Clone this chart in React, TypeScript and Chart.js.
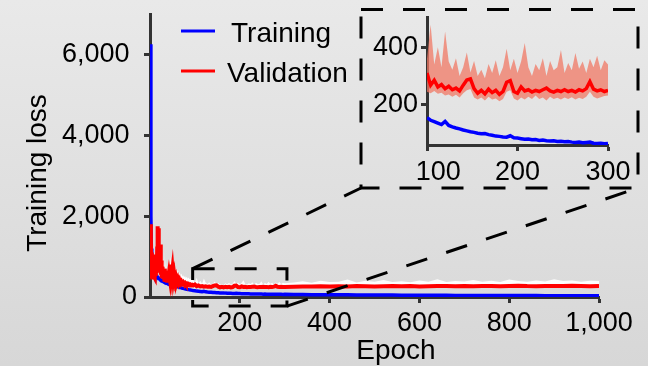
import React, { useEffect, useRef } from 'react';
import { Chart, registerables } from 'chart.js';

Chart.register(...registerables);

// ---------- data ----------
const epochs = [
  1, 2, 3, 4, 5, 6, 7, 8, 9, 10,
  11, 12, 13, 14, 15, 16, 17, 18, 19, 20,
  21, 22, 23, 24, 25, 26, 27, 28, 29, 30,
  31, 32, 33, 34, 35, 36, 37, 38, 39, 40,
  42, 44, 46, 48, 50, 52, 54, 56, 58, 60,
  62, 64, 66, 68, 70, 72, 74, 76, 78, 80,
  82, 84, 86, 88, 90, 92, 94, 96,
  100, 104, 108, 112, 116, 120, 124, 128, 132, 136,
  140, 144, 148, 152, 156, 160, 164, 168, 172, 176,
  180, 184, 188, 192, 196, 200, 204, 208, 212, 216,
  220, 224, 228, 232, 236, 240, 244, 248, 252, 256,
  260, 264, 268, 272, 276, 280, 284, 288, 292, 296, 300,
  320, 340, 360, 380, 400, 420, 440, 460, 480, 500,
  520, 540, 560, 580, 600, 620, 640, 660, 680, 700,
  720, 740, 760, 780, 800, 820, 840, 860, 880, 900,
  920, 940, 960, 980, 1000,
];

const trainLoss = [
  6250, 2000, 1200, 950, 820, 745, 690, 648, 622, 596,
  578, 562, 545, 528, 516, 507, 495, 484, 475, 466,
  455, 444, 437, 430, 419, 410, 404, 399, 391, 385,
  378, 372, 366, 361, 357, 353, 346, 342, 337, 333,
  326, 318, 308, 301, 292, 285, 277, 270, 262, 256,
  249, 241, 236, 231, 224, 218, 214, 209, 202, 197,
  193, 189, 182, 177, 174, 169, 163, 159,
  155, 146, 141, 136, 131, 142, 128, 123, 119, 116,
  112, 109, 106, 104, 101, 99, 100, 96, 94, 91,
  90, 88, 87, 92, 85, 84, 82, 80, 81, 78,
  79, 76, 77, 75, 74, 75, 72, 73, 71, 72,
  70, 69, 70, 68, 69, 70, 66, 65, 66, 64, 65,
  62, 60, 58, 57, 55, 54, 53, 52, 50, 49,
  48, 47, 46, 45, 44, 43, 42, 41, 40, 40,
  39, 38, 38, 37, 36, 36, 35, 35, 34, 34,
  33, 33, 32, 32, 31,
];

const valLoss = [
  1800, 1500, 520, 1100, 480, 900, 560, 1050, 500, 800,
  470, 950, 520, 1000, 600, 1200, 1750, 700, 1700, 800,
  1100, 600, 1300, 550, 900, 480, 750, 460, 680, 450,
  620, 430, 700, 420, 650, 440, 600, 400, 560, 420,
  600, 450, 800, 520, 700, 420, 560, 390, 480, 370,
  440, 350, 410, 340, 380, 330, 360, 320, 345, 310,
  330, 300, 320, 295, 310, 290, 300, 285,
  310, 268, 285, 262, 270, 256, 264, 252, 258, 248,
  268, 286, 290, 256, 240, 250, 238, 254, 242, 250,
  236, 246, 278, 284, 246, 240, 262, 248, 252, 244,
  250, 246, 252, 258, 248, 244, 250, 246, 252, 246,
  250, 244, 252, 248, 256, 280, 254, 248, 252, 246, 250,
  255, 262, 258, 265, 260, 268, 262, 270, 265, 260,
  268, 272, 265, 270, 262, 268, 275, 270, 265, 272,
  268, 275, 270, 266, 272, 278, 270, 268, 275, 272,
  270, 276, 272, 268, 275,
];

const valUpper = [
  1900, 1850, 900, 1400, 800, 1200, 900, 1300, 850, 1100,
  800, 1250, 850, 1300, 1000, 1500, 1850, 1100, 1880, 1200,
  1400, 1000, 1550, 900, 1200, 800, 1050, 780, 950, 750,
  900, 720, 1150, 700, 950, 720, 880, 680, 820, 700,
  900, 720, 1000, 800, 1100, 700, 850, 640, 720, 600,
  680, 560, 620, 540, 580, 510, 540, 490, 520, 470,
  500, 450, 480, 440, 460, 430, 440, 420,
  360, 478, 340, 400, 330, 455, 350, 322, 362, 300,
  330, 382, 312, 352, 300, 322, 292, 342, 310, 355,
  300, 330, 395, 320, 360, 310, 350, 415, 330, 300,
  342, 320, 362, 300, 352, 320, 330, 390, 310, 345,
  320, 380, 325, 350, 310, 360, 330, 370, 320, 355, 340,
  360, 390, 350, 400, 370, 380, 430, 360, 400, 380,
  420, 370, 390, 365, 410, 380, 440, 370, 395, 385,
  420, 375, 400, 370, 430, 395, 380, 410, 385, 440,
  395, 410, 380, 400, 395,
];

const valLower = [
  1500, 1200, 400, 800, 380, 650, 430, 750, 400, 600,
  380, 700, 420, 750, 480, 900, 1300, 550, 1300, 600,
  800, 480, 950, 430, 650, 380, 560, 360, 500, 350,
  470, 340, 520, 330, 480, 340, 450, 320, 420, 330,
  450, 350, 580, 400, 520, 330, 420, 310, 370, 295,
  340, 280, 320, 270, 300, 262, 285, 256, 272, 248,
  262, 242, 255, 238, 246, 234, 238, 232,
  245, 240, 248, 238, 242, 232, 236, 228, 235, 225,
  240, 250, 255, 225, 218, 225, 215, 228, 218, 222,
  212, 220, 245, 250, 222, 215, 225, 218, 228, 220,
  232, 220, 225, 215, 228, 220, 224, 218, 225, 220,
  226, 218, 224, 220, 228, 245, 228, 222, 226, 230, 232,
  225, 230, 228, 232, 230, 235, 230, 236, 232, 230,
  235, 238, 232, 236, 230, 234, 240, 236, 232, 238,
  235, 240, 236, 232, 238, 242, 236, 234, 240, 238,
  236, 240, 238, 234, 240,
];

const mainXTicks = [200, 400, 600, 800, 1000];
const mainYTicks = [0, 2000, 4000, 6000];
const insetXTicks = [100, 200, 300];
const insetYTicks = [200, 400];
const zoomX = [95, 305];
const zoomY = [-225, 700];
const seriesNames = ['Training', 'Validation'];

const FONT = '"Liberation Sans", Arial, sans-serif';
const AX = '#333333';

function App() {
  const mainRef = useRef<HTMLCanvasElement>(null);
  const insetRef = useRef<HTMLCanvasElement>(null);

  useEffect(() => {
    document.body.style.margin = '0';
    const pts = (ys: number[]) => epochs.map((x, i) => ({ x, y: ys[i] }));
    const idx = epochs.map((_, i) => i).filter((i) => epochs[i] >= insetXTicks[0] && epochs[i] <= insetXTicks[2]);
    const ipts = (ys: number[]) => idx.map((i) => ({ x: epochs[i], y: ys[i] }));

    const overlay = {
      id: 'overlay',
      afterDraw(chart: any) {
        const ctx = chart.ctx as CanvasRenderingContext2D;
        const xs = chart.scales.x;
        const ys = chart.scales.y;
        ctx.save();
        // legend
        ctx.lineWidth = 3;
        ctx.strokeStyle = '#0000ff';
        ctx.beginPath(); ctx.moveTo(181, 31); ctx.lineTo(215, 31); ctx.stroke();
        ctx.strokeStyle = '#ff0000';
        ctx.beginPath(); ctx.moveTo(181, 71); ctx.lineTo(215, 71); ctx.stroke();
        ctx.fillStyle = '#000';
        ctx.font = `28px ${FONT}`;
        ctx.textBaseline = 'alphabetic';
        ctx.textAlign = 'left';
        ctx.fillText(seriesNames[0], 231, 42);
        ctx.fillText(seriesNames[1], 227, 82);
        // axis titles
        ctx.textAlign = 'center';
        ctx.fillText('Epoch', 396, 359);
        ctx.save();
        ctx.translate(46, 173);
        ctx.rotate(-Math.PI / 2);
        ctx.fillText('Training loss', 0, 0);
        ctx.restore();
        // dashed zoom box + connectors
        ctx.setLineDash([22, 20]);
        ctx.lineWidth = 3;
        ctx.strokeStyle = '#000';
        const rx0 = xs.getPixelForValue(zoomX[0]);
        const rx1 = xs.getPixelForValue(zoomX[1]);
        const ry0 = ys.getPixelForValue(zoomY[1]);
        const ry1 = ys.getPixelForValue(zoomY[0]);
        ctx.strokeRect(rx0, ry0, rx1 - rx0, ry1 - ry0);
        const bx0 = 361, by0 = 9.5, bx1 = 638, by1 = 188;
        ctx.strokeRect(bx0, by0, bx1 - bx0, by1 - by0);
        ctx.beginPath(); ctx.moveTo(rx0, ry0); ctx.lineTo(bx0, by1); ctx.stroke();
        ctx.beginPath(); ctx.moveTo(rx1, ry1); ctx.lineTo(bx1, by1); ctx.stroke();
        ctx.restore();
      },
    };

    const axisCommon = () => ({
      grid: { display: true, drawOnChartArea: false, drawTicks: true, tickLength: 6, tickWidth: 3, tickColor: AX },
      border: { display: true, color: AX, width: 3 },
    });
    const fitY = (w: number) => (s: any) => { s.width = w; s.paddingTop = 0; s.paddingBottom = 0; };
    const fitX = (h: number) => (s: any) => { s.height = h; };

    const main = new Chart(mainRef.current as HTMLCanvasElement, {
      type: 'line',
      data: {
        datasets: [
          { label: 'Validation', data: pts(valLoss), borderColor: '#ff0000', borderWidth: 4, pointRadius: 0, fill: false },
          { label: 'Training', data: pts(trainLoss), borderColor: '#0000ff', borderWidth: 3.5, pointRadius: 0, fill: false },
          { label: 'upper', data: pts(valUpper), borderColor: 'rgba(0,0,0,0)', borderWidth: 0, backgroundColor: 'rgba(255,255,255,0.95)', pointRadius: 0, fill: '+1' },
          { label: 'lower', data: pts(valLower), borderColor: 'rgba(0,0,0,0)', borderWidth: 0, pointRadius: 0, fill: false },
        ],
      } as any,
      options: {
        responsive: false,
        animation: false,
        events: [],
        layout: { padding: { top: 14, right: 49, left: 0, bottom: 0 } },
        plugins: { legend: { display: false }, tooltip: { enabled: false } },
        scales: {
          x: {
            type: 'linear', min: 0, max: 1000,
            afterBuildTicks: (s: any) => { s.ticks = mainXTicks.map((v) => ({ value: v })); },
            afterFit: fitX(69),
            ...axisCommon(),
            ticks: { color: '#000', font: { family: FONT, size: 27 }, padding: 4, maxRotation: 0, autoSkip: false,
              callback: (v: any) => Number(v).toLocaleString('en-US') },
          },
          y: {
            type: 'linear', min: 0, max: 7000,
            afterBuildTicks: (s: any) => { s.ticks = mainYTicks.map((v) => ({ value: v })); },
            afterFit: fitY(150),
            ...axisCommon(),
            ticks: { color: '#000', font: { family: FONT, size: 27 }, padding: 7, autoSkip: false,
              callback: (v: any) => (Number(v) === 0 ? '0' : Number(v).toLocaleString('en-US') + ' ') },
          },
        },
      } as any,
      plugins: [overlay],
    });

    const inset = new Chart(insetRef.current as HTMLCanvasElement, {
      type: 'line',
      data: {
        datasets: [
          { label: 'Validation', data: ipts(valLoss), borderColor: '#ff0000', borderWidth: 3.5, pointRadius: 0, fill: false },
          { label: 'Training', data: ipts(trainLoss), borderColor: '#0000ff', borderWidth: 3.5, pointRadius: 0, fill: false },
          { label: 'upper', data: ipts(valUpper), borderColor: 'rgba(0,0,0,0)', borderWidth: 0, backgroundColor: 'rgba(240,120,100,0.75)', pointRadius: 0, fill: '+1' },
          { label: 'lower', data: ipts(valLower), borderColor: 'rgba(0,0,0,0)', borderWidth: 0, pointRadius: 0, fill: false },
        ],
      } as any,
      options: {
        responsive: false,
        animation: false,
        events: [],
        layout: { padding: { top: 17, right: 40, left: 0, bottom: 0 } },
        plugins: { legend: { display: false }, tooltip: { enabled: false } },
        scales: {
          x: {
            type: 'linear', min: 100, max: 300,
            afterBuildTicks: (s: any) => { s.ticks = insetXTicks.map((v) => ({ value: v })); },
            afterFit: fitX(221),
            ...axisCommon(),
            ticks: { color: '#000', font: { family: FONT, size: 27 }, padding: 5, maxRotation: 0, autoSkip: false,
              callback: (v: any) => (Number(v) === 100 ? '   100' : String(v)) },
          },
          y: {
            type: 'linear', min: 60, max: 505,
            afterBuildTicks: (s: any) => { s.ticks = insetYTicks.map((v) => ({ value: v })); },
            afterFit: fitY(427),
            ...axisCommon(),
            ticks: { color: '#000', font: { family: FONT, size: 27 }, padding: 3, autoSkip: false,
              callback: (v: any) => String(v) },
          },
        },
      } as any,
    });

    return () => {
      main.destroy();
      inset.destroy();
    };
  }, []);

  return (
    <div style={{ position: 'fixed', left: 0, top: 0, width: 648, height: 366, background: 'linear-gradient(#e9e9e9, #d7d7d7)' }}>
      <canvas ref={mainRef} width={648} height={366} style={{ position: 'absolute', left: 0, top: 0 }} />
      <canvas ref={insetRef} width={648} height={366} style={{ position: 'absolute', left: 0, top: 0 }} />
    </div>
  );
}

export default App;
